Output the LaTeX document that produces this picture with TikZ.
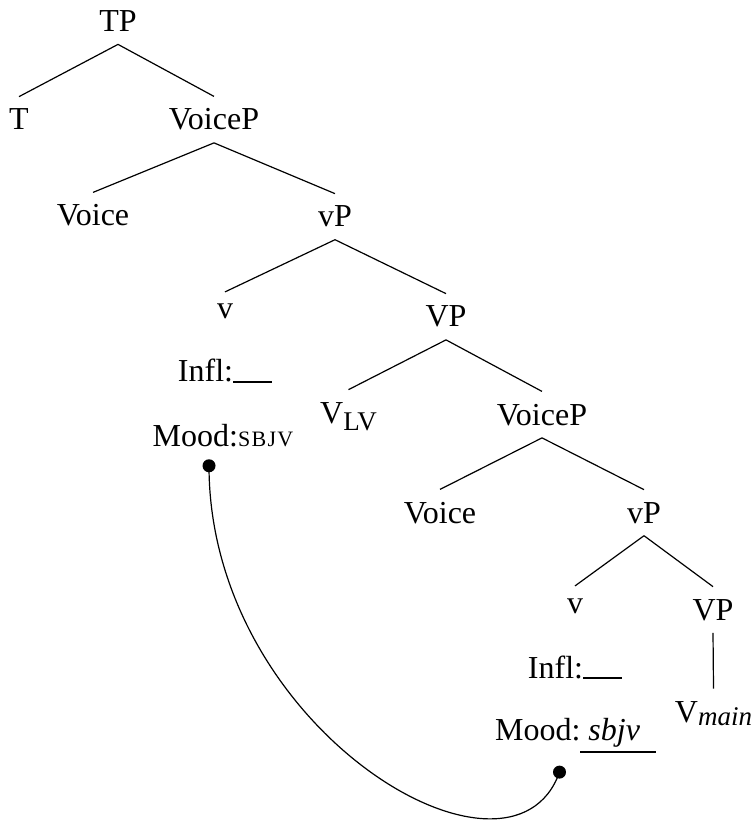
\documentclass[tikz,border=0pt]{standalone}
\usepackage{fontspec}
\setmainfont{Liberation Serif}
\usetikzlibrary{positioning}

\newcommand{\smallcaps}[1]{{\fontsize{11}{12}\selectfont\addfontfeatures{LetterSpace=6}#1}}
\newcommand{\gapline}[1]{\setbox0\hbox{#1}\rlap{\raisebox{-6.4pt}{\rule{\wd0}{1pt}}}\box0}
\newcommand{\blank}{\rule[-0.5pt]{19.5pt}{1pt}}
\newcommand{\subtxt}[2]{\raisebox{#1}{\fontsize{13.5}{14}\selectfont #2}}

\tikzset{
  lbl/.style={anchor=base, inner xsep=0pt, inner ysep=6pt},
  branch/.style={line width=0.6pt},
  agree/.style={circle, fill=black, inner sep=0pt, minimum size=6.5pt},
}

\begin{document}
\begin{tikzpicture}[x=25pt,y=25pt,font=\fontsize{16}{19}\selectfont]
  \useasboundingbox (0,0) rectangle (15.08,-16.44);
  % upper tree
  \node[lbl] (tp) at (2.36,-0.64) {TP};
  \node[lbl] (t) at (0.38,-2.60) {T};
  \node[lbl] (voicep) at (4.28,-2.60) {VoiceP};
  \node[lbl] (voice) at (1.86,-4.52) {Voice};
  \node[lbl] (vp) at (6.70,-4.54) {vP};
  \node[lbl] (smallv) at (4.50,-6.38) {v};
  \node[lbl] (bigvp) at (8.92,-6.54) {VP};
  \node[lbl] (infl) at (4.50,-7.64) {Infl:\blank};
  \node[lbl] (mood) at (4.46,-8.92) {Mood:\smallcaps{SBJV}};
  \node[lbl] (vlv) at (6.97,-8.46) {V\subtxt{-3.5pt}{LV}};
  % embedded VoiceP
  \node[lbl] (voicepb) at (10.84,-8.50) {VoiceP};
  \node[lbl] (voiceb) at (8.80,-10.46) {Voice};
  \node[lbl] (vpb) at (12.88,-10.46) {vP};
  \node[lbl] (smallvb) at (11.50,-12.26) {v};
  \node[lbl] (bigvpb) at (14.26,-12.40) {VP};
  \node[lbl] (inflb) at (11.50,-13.56) {Infl:\blank};
  \node[lbl] (moodb) at (11.51,-14.80) {Mood:\gapline{\ \textit{sbjv}\ \ }};
  \node[lbl] (vmain) at (14.27,-14.44) {V\subtxt{-1.5pt}{\itshape main}};

  \draw[branch] (tp.south) -- (t.north);
  \draw[branch] (tp.south) -- (voicep.north);
  \draw[branch] (voicep.south) -- (voice.north);
  \draw[branch] (voicep.south) -- (vp.north);
  \draw[branch] (vp.south) -- (smallv.north);
  \draw[branch] (vp.south) -- (bigvp.north);
  \draw[branch] (bigvp.south) -- (vlv.north);
  \draw[branch] (bigvp.south) -- (voicepb.north);
  \draw[branch] (voicepb.south) -- (voiceb.north);
  \draw[branch] (voicepb.south) -- (vpb.north);
  \draw[branch] (vpb.south) -- (smallvb.north);
  \draw[branch] (vpb.south) -- (bigvpb.north);
  \draw[branch] (bigvpb.south) -- (vmain.north);

  % agreement link
  \node[agree, below=0pt of mood, xshift=-7pt] (dota) {};
  \node[agree, below=0pt of moodb, xshift=-8pt] (dotb) {};
  \draw[line width=0.6pt] (dota.center) .. controls +(0,-132pt) and +(-24pt,-68pt) .. (dotb.center);
\end{tikzpicture}
\end{document}
